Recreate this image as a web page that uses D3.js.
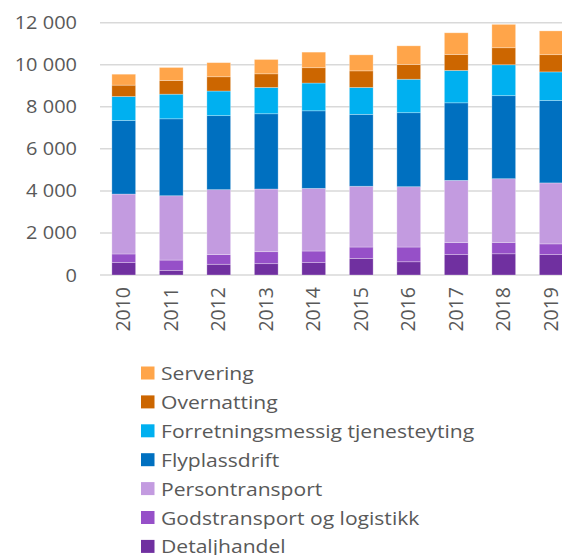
<!DOCTYPE html>
<html>
<head>
    <meta charset="utf-8">
    <title>Stacked bars</title>
    <script src="https://cdnjs.cloudflare.com/ajax/libs/d3/7.8.5/d3.min.js"></script>
    <style>
        body { margin: 0; background: #fff; }
        text { font-family: "Open Sans", sans-serif; fill: #595959; }
        .grid line { stroke: #d9d9d9; stroke-width: 1.5px; }
    </style>
</head>
<body>
<div id="chart"></div>
<script>
    // data
    const years = ["2010", "2011", "2012", "2013", "2014", "2015", "2016", "2017", "2018", "2019"];
    const series = ["Detaljhandel", "Godstransport og logistikk", "Persontransport", "Flyplassdrift",
        "Forretningsmessig tjenesteyting", "Overnatting", "Servering"];
    const colors = ["#7030a0", "#9650c8", "#c39be0", "#0070c0", "#00b0f0", "#cc6600", "#ffa54a"];

    const detaljhandel = [590, 220, 510, 540, 590, 790, 630, 970, 1010, 970];
    const godstransport = [410, 490, 460, 570, 550, 540, 700, 570, 540, 510];
    const persontransport = [2850, 3060, 3090, 2980, 2980, 2890, 2870, 2960, 3030, 2900];
    const flyplassdrift = [3500, 3660, 3520, 3580, 3690, 3420, 3520, 3690, 3950, 3920];
    const forretning = [1140, 1170, 1170, 1250, 1320, 1280, 1590, 1540, 1470, 1360];
    const overnatting = [540, 650, 680, 650, 730, 790, 700, 760, 810, 820];
    const servering = [520, 620, 670, 680, 740, 760, 890, 1030, 1110, 1130];

    const yTicks = [0, 2000, 4000, 6000, 8000, 10000, 12000];

    const values = [detaljhandel, godstransport, persontransport, flyplassdrift, forretning, overnatting, servering];
    const table = years.map((yr, i) => {
        const row = { year: yr };
        series.forEach((s, k) => row[s] = values[k][i]);
        return row;
    });

    const width = 562, height = 555;
    const svg = d3.select("#chart").append("svg")
        .attr("width", width)
        .attr("height", height);

    const x = d3.scaleBand()
        .domain(years)
        .range([100, 575])
        .paddingInner(0.5)
        .paddingOuter(0.25);

    const y = d3.scaleLinear()
        .domain([0, 12000])
        .range([275, 22.7]);

    const fmt = d => d3.format(",")(d).replace(",", " ");

    // gridlines
    svg.append("g")
        .attr("class", "grid")
        .selectAll("line")
        .data(yTicks)
        .join("line")
        .attr("x1", 100)
        .attr("x2", width)
        .attr("y1", d => y(d))
        .attr("y2", d => y(d));

    // y labels
    svg.append("g")
        .selectAll("text")
        .data(yTicks)
        .join("text")
        .attr("transform", d => "translate(77," + (y(d) + 6.5) + ") scale(1.08,1)")
        .attr("text-anchor", "end")
        .style("font-size", "18.5px")
        .text(fmt);

    // bars
    const stack = d3.stack().keys(series)(table);
    svg.append("g")
        .selectAll("g")
        .data(stack)
        .join("g")
        .attr("fill", (d, i) => colors[i])
        .selectAll("rect")
        .data(d => d)
        .join("rect")
        .attr("x", d => x(d.data.year))
        .attr("width", x.bandwidth())
        .attr("y", d => y(d[1]))
        .attr("height", d => y(d[0]) - y(d[1]))
        .attr("stroke", "#fff")
        .attr("stroke-opacity", 0.35)
        .attr("stroke-width", 0.8);

    // x labels (rotated)
    svg.append("g")
        .selectAll("text")
        .data(years)
        .join("text")
        .attr("transform", d => "translate(" + (x(d) + x.bandwidth() / 2 + 6.5) + ",287) rotate(-90)")
        .attr("text-anchor", "end")
        .style("font-size", "19.5px")
        .text(d => d);

    // legend, top entry is the top of the stack
    const legend = svg.append("g")
        .selectAll("g")
        .data(series.slice().reverse())
        .join("g")
        .attr("transform", (d, i) => "translate(141," + (366.5 + i * 28.9) + ")");

    legend.append("rect")
        .attr("width", 13.5)
        .attr("height", 13)
        .attr("fill", d => colors[series.indexOf(d)]);

    legend.append("text")
        .attr("transform", "translate(20,13.5) scale(1.14,1)")
        .style("font-size", "18.5px")
        .text(d => d);
</script>
</body>
</html>
